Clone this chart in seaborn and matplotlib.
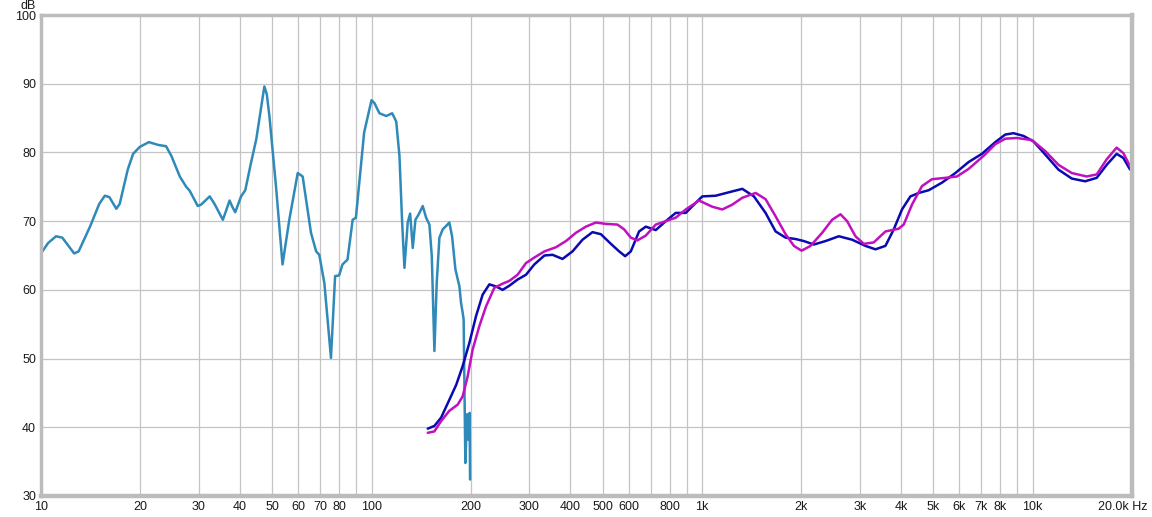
import numpy as np
import pandas as pd
import matplotlib
matplotlib.use("Agg")
import matplotlib.pyplot as plt
import matplotlib.transforms as mtransforms
import seaborn as sns

# estilo base, depois a fonte (set_style reseta a familia)
sns.set_style("white")
plt.rcParams['font.family'] = ['Liberation Sans', 'DejaVu Sans']

# ---------------- dados ----------------
# curva medida (azul claro), 10 Hz ate ~200 Hz
freq_low = [10.0, 10.5, 11.1, 11.6, 12.2, 12.6, 13.0, 14.1, 15.0, 15.6, 16.1, 16.9, 17.3,
            18.3, 19.0, 19.9, 21.2, 22.6, 23.9, 24.8, 26.3, 27.5, 28.2, 29.8, 30.5, 32.4,
            33.5, 35.5, 36.3, 37.2, 38.0, 38.7, 40.3, 41.5, 43.2, 44.8, 46.0, 47.4, 48.2,
            49.1, 51.4, 53.8, 56.4, 59.8, 61.9, 65.6, 68.0, 69.5, 72.0, 75.4, 77.6, 79.8,
            81.7, 84.6, 87.7, 89.7, 95.0, 100.0, 102.0, 105.7, 110.8, 115.5, 118.8, 121.5,
            123.8, 125.8, 128.7, 130.9, 133.3, 135.8, 139.0, 142.9, 146.3, 149.7, 152.2,
            155.0, 157.5, 160.5, 164.2, 168.2, 172.0, 175.3, 179.4, 184.5, 186.6, 188.7,
            190.0, 192.3, 194.6, 196.3, 198.1, 198.7]
db_low = [65.3, 66.8, 67.8, 67.6, 66.2, 65.3, 65.6, 69.3, 72.5, 73.7, 73.5, 71.8, 72.5,
          77.5, 79.8, 80.8, 81.5, 81.1, 80.9, 79.5, 76.5, 75.0, 74.4, 72.2, 72.4, 73.6,
          72.5, 70.2, 71.5, 73.0, 72.0, 71.3, 73.6, 74.5, 78.5, 81.9, 85.5, 89.6, 88.5,
          85.3, 75.1, 63.7, 70.2, 77.0, 76.5, 68.3, 65.6, 65.1, 61.0, 50.1, 62.0, 62.1,
          63.7, 64.4, 70.2, 70.5, 82.9, 87.6, 87.2, 85.7, 85.3, 85.7, 84.5, 79.5,
          69.8, 63.2, 69.8, 71.1, 66.1, 70.2, 71.0, 72.2, 70.5, 69.5, 64.9,
          51.1, 61.0, 67.6, 68.8, 69.3, 69.8, 67.8, 63.0, 60.5, 58.1, 56.7,
          55.7, 34.8, 41.9, 38.2, 42.1, 32.4]

# curva azul escuro
freq_blue = [148, 155, 162.4, 172, 180.5, 188.7, 197.8, 207.2, 216.9, 227.3, 238, 249.3,
             261.2, 276.7, 293.4, 310.9, 333.6, 353, 378.4, 405.7, 435, 466.3, 494.3, 530,
             561.4, 585.4, 609, 645, 676, 724.6, 777, 832.6, 893, 968, 1002, 1100, 1206,
             1324, 1436, 1557, 1670, 1790, 1919, 2033, 2180, 2364, 2594, 2845, 3123, 3348,
             3589, 3803, 4029, 4271, 4524, 4852, 5321, 5841, 6407, 7030, 7715, 8271, 8762,
             9393, 10070, 10925, 11980, 13146, 14430, 15640, 16770, 17970, 18830, 19735]
db_blue = [39.8, 40.2, 41.4, 44.0, 46.2, 48.9, 52.3, 56.2, 59.3, 60.8, 60.5, 60.0,
           60.6, 61.5, 62.2, 63.7, 65.0, 65.1, 64.5, 65.6, 67.3, 68.4, 68.1, 66.7,
           65.6, 64.9, 65.6, 68.5, 69.2, 68.7, 70.0, 71.2, 71.2, 72.9, 73.6, 73.7, 74.2,
           74.7, 73.6, 71.2, 68.5, 67.6, 67.4, 67.1, 66.6, 67.1, 67.8, 67.3, 66.4, 65.9,
           66.4, 68.8, 71.7, 73.6, 74.1, 74.5, 75.6, 77.0, 78.6, 79.8, 81.5, 82.6, 82.8,
           82.4, 81.6, 79.7, 77.5, 76.2, 75.8, 76.3, 78.2, 79.8, 79.2, 77.5]

# curva magenta
freq_mag = [148, 155, 162.4, 172, 182.3, 188.7, 195.4, 202.3, 211.9, 222.1, 235.3, 249.3,
            261.2, 276.7, 293.4, 310.9, 333.6, 361.4, 387.6, 415.3, 445.3, 477.4, 511.8,
            554.8, 581.4, 609, 637.6, 676, 724.6, 777, 832.6, 893, 979, 1074, 1152, 1235,
            1324, 1453, 1557, 1670, 1790, 1897, 2001, 2130, 2309, 2476, 2624, 2748, 2913,
            3086, 3308, 3589, 3937, 4077, 4318, 4630, 4963, 5448, 5906, 6407, 7112, 7715,
            8271, 8966, 9951, 10925, 11980, 13146, 14590, 15640, 16770, 17970, 18830, 19735]
db_mag = [39.2, 39.4, 40.9, 42.4, 43.3, 44.5, 47.4, 51.3, 54.7, 57.6, 60.3, 60.9,
          61.3, 62.2, 63.9, 64.7, 65.6, 66.2, 67.1, 68.3, 69.2, 69.8, 69.6,
          69.5, 68.8, 67.6, 67.2, 67.9, 69.5, 70.0, 70.5, 71.7, 73.0, 72.1, 71.7, 72.4,
          73.4, 74.1, 73.2, 70.7, 68.1, 66.4, 65.7, 66.4, 68.3, 70.2, 71.0, 70.0, 67.8,
          66.7, 66.9, 68.5, 68.9, 69.5, 72.4, 75.1, 76.1, 76.3, 76.5, 77.6, 79.5, 81.2,
          82.0, 82.1, 81.8, 80.2, 78.2, 77.0, 76.5, 76.8, 79.0, 80.7, 79.9, 78.0]

# grade e rotulos do eixo x
grid_freqs = ([10, 20, 30, 40, 50, 60, 70, 80, 90] +
              [100, 200, 300, 400, 500, 600, 700, 800, 900] +
              [1000, 2000, 3000, 4000, 5000, 6000, 7000, 8000, 9000] +
              [10000, 20000])
grid_labels = (['10', '20', '30', '40', '50', '60', '70', '80', ''] +
               ['100', '200', '300', '400', '500', '600', '', '800', ''] +
               ['1k', '2k', '3k', '4k', '5k', '6k', '7k', '8k', ''] +
               ['10k', ''])
db_ticks = [30, 40, 50, 60, 70, 80, 90, 100]

# ---------------- figura ----------------
fig = plt.figure(figsize=(11.52, 5.17), dpi=100)
ax = fig.add_axes([41 / 1152, 21 / 517, 1091 / 1152, 481 / 517])

df_low = pd.DataFrame({'f': freq_low, 'db': db_low})
df_blue = pd.DataFrame({'f': freq_blue, 'db': db_blue})
df_mag = pd.DataFrame({'f': freq_mag, 'db': db_mag})

sns.lineplot(data=df_low, x='f', y='db', ax=ax, color='#2f8ab9', linewidth=1.8,
             estimator=None, sort=False)
sns.lineplot(data=df_blue, x='f', y='db', ax=ax, color='#0a0ab0', linewidth=1.8,
             estimator=None, sort=False)
sns.lineplot(data=df_mag, x='f', y='db', ax=ax, color='#c010c0', linewidth=1.8,
             estimator=None, sort=False)

ax.set_xscale('log')
ax.set_xlim(10, 20000)
ax.set_ylim(30, 100)
ax.set_xticks(grid_freqs)
ax.set_xticklabels(grid_labels)
ax.xaxis.set_minor_locator(matplotlib.ticker.NullLocator())
ax.set_yticks(db_ticks)
ax.set_yticklabels([str(v) for v in db_ticks])
ax.grid(True, color='#c4c4c4', linewidth=0.9)
ax.set_axisbelow(True)
ax.tick_params(length=0, labelsize=9, labelcolor='#1a1a1a', pad=3.5)
ax.set_xlabel('')
ax.set_ylabel('')

for s in ax.spines.values():
    s.set_color('#bcbcbc')
    s.set_linewidth(2.5)
ax.spines['right'].set_linewidth(3.2)
ax.spines['bottom'].set_linewidth(3.2)

# rotulo final e unidade
trans = mtransforms.offset_copy(ax.transAxes, fig=fig, y=-3.5, units='points')
ax.text((1148 - 41) / 1091, 0, '20.0k Hz', transform=trans, ha='right', va='top',
        fontsize=9, color='#1a1a1a')
fig.text(28 / 1152, 1 - 9 / 517, 'dB', ha='center', va='baseline', fontsize=9,
         color='#1a1a1a')

fig.savefig('out.png', dpi=100, facecolor='white')
